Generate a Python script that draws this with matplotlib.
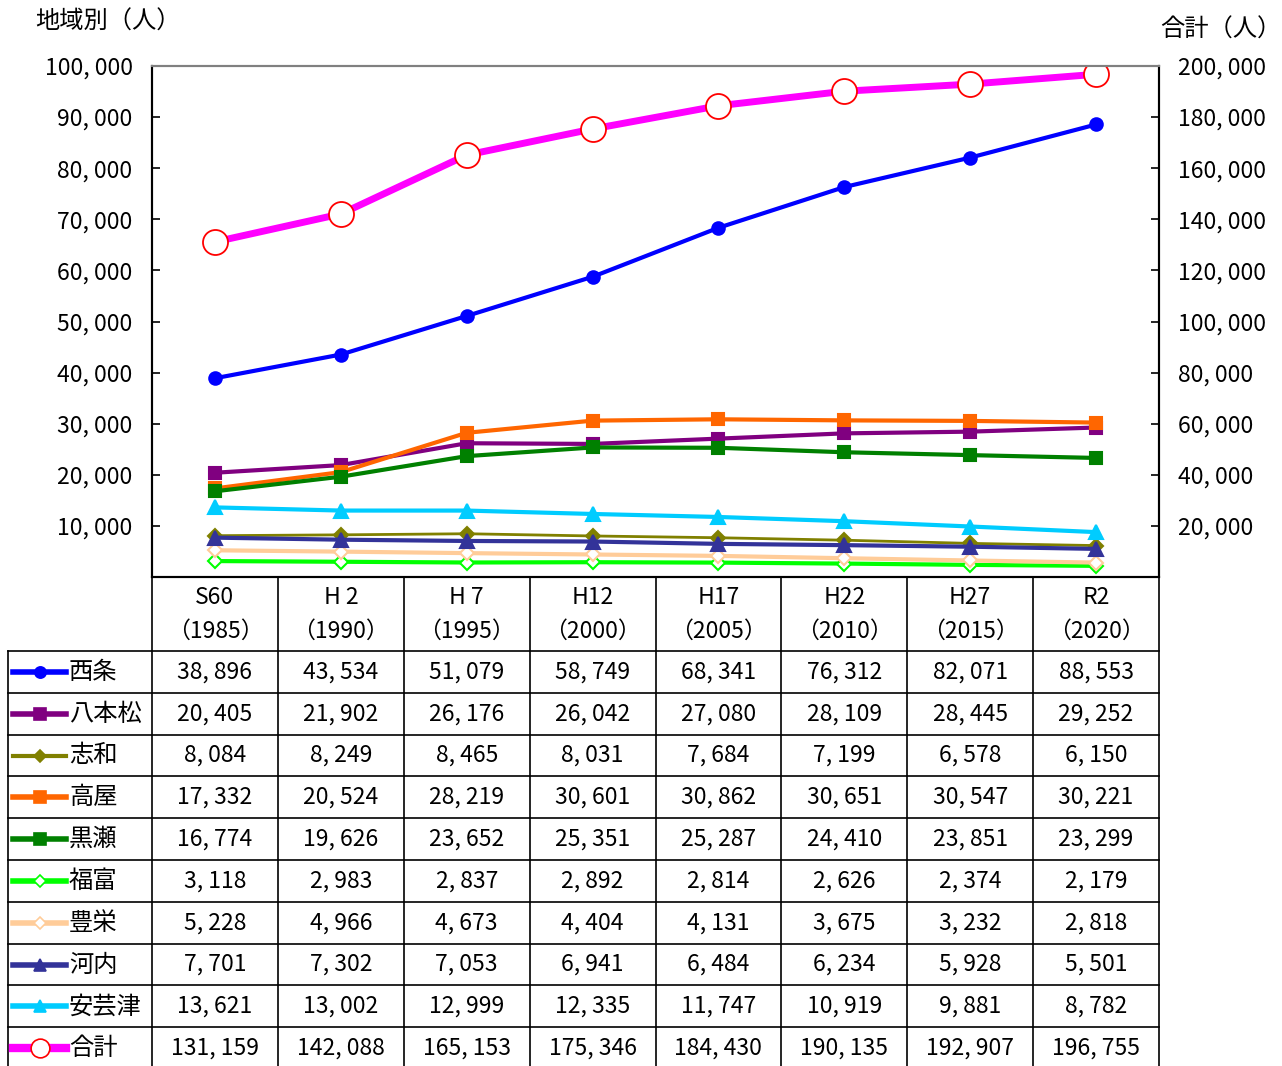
import matplotlib.pyplot as plt
from matplotlib.transforms import blended_transform_factory
from matplotlib.lines import Line2D

plt.rcParams['font.family'] = ['Noto Sans CJK JP', 'DejaVu Sans']

periods = ["S60", "H 2", "H 7", "H12", "H17", "H22", "H27", "R2"]
years = ["1985", "1990", "1995", "2000", "2005", "2010", "2015", "2020"]

saijo = [38896, 43534, 51079, 58749, 68341, 76312, 82071, 88553]
hachihonmatsu = [20405, 21902, 26176, 26042, 27080, 28109, 28445, 29252]
shiwa = [8084, 8249, 8465, 8031, 7684, 7199, 6578, 6150]
takaya = [17332, 20524, 28219, 30601, 30862, 30651, 30547, 30221]
kurose = [16774, 19626, 23652, 25351, 25287, 24410, 23851, 23299]
fukutomi = [3118, 2983, 2837, 2892, 2814, 2626, 2374, 2179]
toyosaka = [5228, 4966, 4673, 4404, 4131, 3675, 3232, 2818]
kouchi = [7701, 7302, 7053, 6941, 6484, 6234, 5928, 5501]
akitsu = [13621, 13002, 12999, 12335, 11747, 10919, 9881, 8782]
total = [131159, 142088, 165153, 175346, 184430, 190135, 192907, 196755]

# (label, values, colour, marker, face colour, marker edge, marker size, line width)
series = [
    ("西条", saijo, "#0000FF", "o", "#0000FF", "#0000FF", 9, 3),
    ("八本松", hachihonmatsu, "#800080", "s", "#800080", "#800080", 9, 3),
    ("志和", shiwa, "#808000", "D", "#808000", "#808000", 7, 2),
    ("高屋", takaya, "#FF6600", "s", "#FF6600", "#FF6600", 9, 3),
    ("黒瀬", kurose, "#008000", "s", "#008000", "#008000", 9, 3),
    ("福富", fukutomi, "#00FF00", "D", "white", "#00FF00", 7, 3),
    ("豊栄", toyosaka, "#FFCC99", "D", "white", "#FFCC99", 7, 3),
    ("河内", kouchi, "#333399", "^", "#333399", "#333399", 10, 3),
    ("安芸津", akitsu, "#00CCFF", "^", "#00CCFF", "#00CCFF", 10, 3),
]
total_style = ("合計", total, "#FF00FF", "o", "white", "#FF0000", 18, 5)

W, H = 1282, 1066
fig = plt.figure(figsize=(W / 100, H / 100), dpi=100)
ax = fig.add_axes([152 / W, 1 - 577 / H, (1159 - 152) / W, (577 - 66) / H])
ax2 = ax.twinx()

x = list(range(len(periods)))
for name, vals, c, m, fc, ec, ms, lw in series:
    ax.plot(x, vals, color=c, lw=lw, marker=m, ms=ms, mfc=fc, mec=ec, mew=1.5, zorder=3)
name, vals, c, m, fc, ec, ms, lw = total_style
ax2.plot(x, vals, color=c, lw=lw, marker=m, ms=ms, mfc=fc, mec=ec, mew=1.3, zorder=3)

fs = 16.5
fs_jp = 17.5
fmt = lambda v: f"{v:,}".replace(",", ", ")
ax.set_xlim(-0.5, len(periods) - 0.5)
ax.set_ylim(0, 100000)
ax2.set_ylim(0, 200000)
ax.set_xticks([])
ax.set_yticks(range(10000, 100001, 10000))
ax.set_yticklabels([fmt(v) for v in range(10000, 100001, 10000)], fontsize=fs)
ax2.set_yticks(range(20000, 200001, 20000))
ax2.set_yticklabels([fmt(v) for v in range(20000, 200001, 20000)], fontsize=fs)
for a in (ax, ax2):
    a.tick_params(axis="y", direction="in", length=6, width=1.2, pad=14)
    for s in a.spines.values():
        s.set_linewidth(1.5)
    a.spines["top"].set_color("#808080")
ax.set_zorder(ax2.get_zorder() + 1)
ax.patch.set_visible(False)

fig.text(35 / W, 1 - 22 / H, "地域別（人）", fontsize=fs_jp, va="center", ha="left")
fig.text(1160 / W, 1 - 30 / H, "合計（人）", fontsize=fs_jp, va="center", ha="left")

# data table under the plot
tb = fig.add_axes([0, 0, 1, 1])
tb.set_xlim(0, W)
tb.set_ylim(H, 0)
tb.axis("off")
tb.set_zorder(-1)
xt = blended_transform_factory(ax.transData, tb.transData)

left, right = 8, 1159
col_w = (1159 - 152) / len(periods)
header_top, header_bot = 577, 651
row_h = 41.8
all_rows = series + [total_style]
n = len(all_rows)
lc = "black"
for i in range(len(periods) + 1):
    xv = 152 + i * col_w
    tb.plot([xv, xv], [header_top, H + 5], color=lc, lw=1.2)
for r in range(n + 1):
    yv = header_bot + r * row_h
    tb.plot([left, right], [yv, yv], color=lc, lw=1.2)
tb.plot([left, left], [header_bot, H + 5], color=lc, lw=1.2)

for i, (p, yr) in enumerate(zip(periods, years)):
    tb.text(i, 598, p, transform=xt, ha="center", va="center", fontsize=fs)
    tb.text(i, 631, f"（{yr}）", transform=xt, ha="center", va="center", fontsize=fs)

for r, (name, vals, c, m, fc, ec, ms, lw) in enumerate(all_rows):
    yc = header_bot + (r + 0.5) * row_h
    tb.add_line(Line2D([13, 39.5, 66], [yc, yc, yc], color=c, lw=lw + 1,
                       marker=m, markevery=[1], ms=ms * (0.75 if name == "合計" else 0.9),
                       mfc=fc, mec=ec, mew=1.2))
    tb.text(69, yc, name, ha="left", va="center", fontsize=fs_jp)
    for i, v in enumerate(vals):
        tb.text(i, yc, fmt(v), transform=xt, ha="center", va="center", fontsize=fs)

fig.savefig("out.png", dpi=100)
